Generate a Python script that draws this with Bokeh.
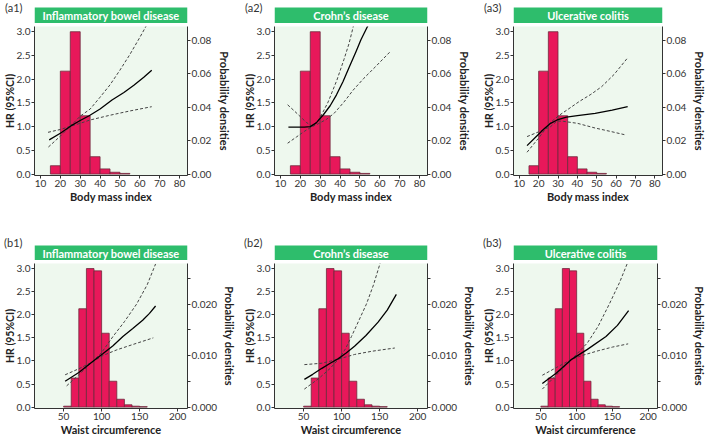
from bokeh.plotting import figure
from bokeh.layouts import column, row
from bokeh.models import (Range1d, LinearAxis, FixedTicker, NumeralTickFormatter,
                          CustomJSTickFormatter)
from bokeh.core.properties import value
from bokeh.embed import file_html
from bokeh.resources import INLINE

# ---------------- data ----------------
panel_tags = ["(a1)", "(a2)", "(a3)", "(b1)", "(b2)", "(b3)"]
disease_names = ["Inflammatory bowel disease", "Crohn\u2019s disease", "Ulcerative colitis"]
bmi_label = "Body mass index"
waist_label = "Waist circumference"

hr_ticks = [0.0, 0.5, 1.0, 1.5, 2.0, 2.5, 3.0]
bmi_ticks = [10, 20, 30, 40, 50, 60, 70, 80]
waist_ticks = [50, 100, 150, 200]
bmi_dens_ticks = [0.0, 0.02, 0.04, 0.06, 0.08]
waist_dens_ticks = [0.0, 0.01, 0.02]
waist_dens_minor = [0.005, 0.015, 0.025]

# histograms (probability densities)
bmi_bin_left = [15, 20, 25, 30, 35, 40, 45, 50]
bmi_bin_right = [20, 25, 30, 35, 40, 45, 50, 55]
bmi_density = [0.0050, 0.0616, 0.0852, 0.0349, 0.0104, 0.0031, 0.0011, 0.0004]

waist_bin_left = [50, 60, 70, 80, 90, 100, 110, 120, 130, 140, 150]
waist_bin_right = [60, 70, 80, 90, 100, 110, 120, 130, 140, 150, 160]
waist_density = [0.00018, 0.00565, 0.01912, 0.02693, 0.02648, 0.01436,
                 0.00503, 0.00153, 0.00045, 0.00018, 0.00009]

# a1: IBD vs BMI
a1_x = [14.4, 20, 25.5, 30, 34.5, 40, 46, 52, 57, 62, 66]
a1_hr = [0.72, 0.86, 1.02, 1.13, 1.23, 1.37, 1.56, 1.72, 1.87, 2.04, 2.19]
a1_up_x = [14, 20, 26, 30, 35, 40, 45, 50, 55, 60, 64]
a1_up = [0.57, 0.80, 1.05, 1.22, 1.37, 1.62, 1.88, 2.19, 2.52, 2.88, 3.18]
a1_lo_x = [13.8, 20, 26, 30, 35, 45, 55, 66]
a1_lo = [0.88, 0.94, 1.02, 1.07, 1.14, 1.24, 1.33, 1.42]

# a2: CD vs BMI
a2_x = [14, 18, 22, 25, 28, 31.6, 35, 38.2, 41.5, 44.8, 48, 50.5, 54.5]
a2_hr = [0.99, 0.99, 0.99, 1.0, 1.08, 1.25, 1.44, 1.67, 1.95, 2.27, 2.58, 2.83, 3.17]
a2_up_x = [13.6, 17, 20, 23, 25.5, 28, 30.2, 34, 38.4, 42, 44.5, 46.6, 48]
a2_up = [1.46, 1.33, 1.21, 1.09, 1.02, 1.08, 1.21, 1.52, 1.98, 2.42, 2.75, 3.1, 3.35]
a2_lo_x = [13.6, 18, 22, 25.5, 29, 33, 37, 42, 46.6, 52, 58, 65]
a2_lo = [0.65, 0.78, 0.90, 0.99, 1.06, 1.15, 1.28, 1.52, 1.77, 2.02, 2.27, 2.57]

# a3: UC vs BMI
a3_x = [14, 19.7, 23, 26.2, 29.5, 34.4, 40, 49.2, 58, 66]
a3_hr = [0.60, 0.83, 0.96, 1.07, 1.14, 1.20, 1.23, 1.28, 1.35, 1.42]
a3_up_x = [14, 20, 26.2, 30.3, 35, 41, 47, 52.5, 59, 66]
a3_up = [0.46, 0.76, 1.09, 1.23, 1.36, 1.53, 1.68, 1.84, 2.10, 2.45]
a3_lo_x = [14, 20, 26.2, 29.5, 33, 40, 49.2, 57, 64.4]
a3_lo = [0.79, 0.89, 1.00, 1.12, 1.11, 1.07, 0.97, 0.90, 0.83]

# b1: IBD vs waist
b1_x = [52, 70, 87, 102, 115, 128, 141, 154, 163, 171]
b1_hr = [0.56, 0.75, 0.97, 1.16, 1.33, 1.53, 1.70, 1.88, 2.03, 2.19]
b1_up_x = [54, 70, 87, 100, 115, 130, 146, 160, 171]
b1_up = [0.46, 0.70, 0.97, 1.18, 1.53, 1.85, 2.23, 2.65, 3.10]
b1_lo_x = [52, 70, 87, 102, 120, 140, 168]
b1_lo = [0.70, 0.83, 0.97, 1.12, 1.24, 1.35, 1.50]

# b2: CD vs waist
b2_x = [51, 62, 74, 85, 95.7, 106, 117, 132, 148, 160, 172]
b2_hr = [0.60, 0.71, 0.84, 0.95, 1.05, 1.17, 1.32, 1.55, 1.84, 2.10, 2.44]
b2_up_x = [51, 70, 85, 96, 105, 113, 122, 132.6, 142, 150, 154]
b2_up = [0.39, 0.62, 0.84, 1.04, 1.26, 1.53, 1.85, 2.23, 2.65, 3.08, 3.30]
b2_lo_x = [51, 74, 96, 117, 140, 170]
b2_lo = [0.92, 0.95, 1.04, 1.14, 1.21, 1.28]

# b3: UC vs waist
b3_x = [52, 71.7, 93.5, 115, 141, 157, 172.6]
b3_hr = [0.51, 0.74, 1.04, 1.25, 1.53, 1.77, 2.09]
b3_up_x = [52, 72, 93.5, 115, 130, 145.6, 160, 171]
b3_up = [0.39, 0.70, 1.04, 1.39, 1.75, 2.23, 2.70, 3.12]
b3_lo_x = [52, 72, 93.5, 108, 130, 150, 172]
b3_lo = [0.69, 0.86, 1.04, 1.12, 1.22, 1.30, 1.37]

# ---------------- style / layout ----------------
FONT = "Lato"
BAR_FILL = "#E8185A"
BAR_LINE = "#6E2A3C"
PANEL_BG = "#EEF8EE"
TITLE_BG = "#2EBD6C"
AX = "#333333"

Y0, Y1 = -0.03, 3.11
BMI_K = 0.0284      # density units per HR unit (right axis scale)
WAIST_K = 0.008975

col_w = [240, 239, 230]
LEFT = 33
FRAME_W = 154
# header strip: (height, tag centre, bar top, bar bottom)
header_geom = [(23, 7, 7, 23), (25, 7, 10, 25)]
main_h = [212, 178]
main_top = 3
main_bottom = [60, 29]


def style_axis(ax, standoff=1):
    ax.axis_line_color = AX
    ax.axis_line_width = 1
    ax.major_tick_line_color = AX
    ax.minor_tick_line_color = AX
    ax.major_tick_in = 0
    ax.major_tick_out = 3
    ax.minor_tick_in = 0
    ax.minor_tick_out = 3
    ax.major_label_text_font = FONT
    ax.major_label_text_font_size = "10px"
    ax.major_label_text_color = AX
    ax.major_label_standoff = 1
    ax.axis_label_text_font = FONT
    ax.axis_label_text_font_size = "11px"
    ax.axis_label_text_font_style = "bold"
    ax.axis_label_text_color = "#222222"
    ax.axis_label_standoff = standoff


def make_header(tag, name, r, c, xr):
    w = col_w[c]
    hh, tag_y, bt, bb = header_geom[r]
    h = figure(width=w, height=hh, x_range=Range1d(*xr), y_range=Range1d(hh, 0),
               output_backend="svg", toolbar_location=None,
               x_axis_location=None, y_axis_location="left",
               min_border_left=LEFT, min_border_right=w - LEFT - FRAME_W,
               min_border_top=0, min_border_bottom=0)
    h.outline_line_color = None
    h.grid.visible = False
    h.background_fill_color = "white"
    h.border_fill_color = "white"
    h.quad(left=[xr[0]], right=[xr[1]], top=[bt], bottom=[bb],
           fill_color=TITLE_BG, line_color=None)
    h.text(x=[(xr[0] + xr[1]) / 2], y=[(bt + bb) / 2], text=[name],
           text_align="center", text_baseline="middle", text_color="white",
           text_font=value(FONT), text_font_size=value("11px"),
           text_font_style="bold")
    ya = h.yaxis[0]
    ya.ticker = FixedTicker(ticks=[tag_y], minor_ticks=[])
    ya.formatter = CustomJSTickFormatter(code="return '%s'" % tag)
    ya.axis_line_color = None
    ya.major_tick_line_color = None
    ya.minor_tick_line_color = None
    ya.major_tick_in = 0
    ya.major_tick_out = 0
    ya.major_label_standoff = 12
    ya.major_label_text_font = FONT
    ya.major_label_text_font_size = "11px"
    ya.major_label_text_color = "#333333"
    return h


def make_panel(tag, name, r, c, xr, xticks, xlabel, bl, br, dens, k,
               dticks, dminor, dfmt, curves):
    w = col_w[c]
    p = figure(width=w, height=main_h[r], x_range=Range1d(*xr),
               y_range=Range1d(Y0, Y1),
               output_backend="svg", toolbar_location=None,
               min_border_left=LEFT, min_border_right=w - LEFT - FRAME_W,
               min_border_top=main_top, min_border_bottom=main_bottom[r])
    p.background_fill_color = PANEL_BG
    p.border_fill_color = "white"
    p.outline_line_color = None
    p.grid.visible = False
    p.extra_y_ranges = {"dens": Range1d(Y0 * k, Y1 * k)}

    p.quad(left=bl, right=br, bottom=0, top=dens, y_range_name="dens",
           fill_color=BAR_FILL, line_color=BAR_LINE, line_width=0.8)

    (cx, cy), (ux, uy), (lx, ly) = curves
    p.line(ux, uy, line_color="#444444", line_width=1, line_dash="3 2")
    p.line(lx, ly, line_color="#444444", line_width=1, line_dash="3 2")
    p.line(cx, cy, line_color="black", line_width=1.3)

    p.xaxis.ticker = xticks
    p.xaxis.axis_label = xlabel
    p.yaxis.ticker = hr_ticks
    p.yaxis.formatter = NumeralTickFormatter(format="0.0")
    p.yaxis.axis_label = "HR (95%CI)"
    style_axis(p.xaxis[0], 0)
    style_axis(p.yaxis[0], -2)
    p.yaxis[0].major_label_standoff = 1
    p.yaxis[0].axis_label_text_font_size = "10.5px"

    rax = LinearAxis(y_range_name="dens",
                     ticker=FixedTicker(ticks=dticks, minor_ticks=dminor),
                     formatter=NumeralTickFormatter(format=dfmt),
                     axis_label="Probability densities")
    style_axis(rax, 4 if dfmt == "0.00" else 3)
    p.add_layout(rax, "right")

    return column(make_header(tag, name, r, c, xr), p, spacing=0)


bmi_curves = [
    ((a1_x, a1_hr), (a1_up_x, a1_up), (a1_lo_x, a1_lo)),
    ((a2_x, a2_hr), (a2_up_x, a2_up), (a2_lo_x, a2_lo)),
    ((a3_x, a3_hr), (a3_up_x, a3_up), (a3_lo_x, a3_lo)),
]
waist_curves = [
    ((b1_x, b1_hr), (b1_up_x, b1_up), (b1_lo_x, b1_lo)),
    ((b2_x, b2_hr), (b2_up_x, b2_up), (b2_lo_x, b2_lo)),
    ((b3_x, b3_hr), (b3_up_x, b3_up), (b3_lo_x, b3_lo)),
]

row_a = [make_panel(panel_tags[i], disease_names[i], 0, i, (7, 84), bmi_ticks, bmi_label,
                    bmi_bin_left, bmi_bin_right, bmi_density, BMI_K,
                    bmi_dens_ticks, [], "0.00", bmi_curves[i]) for i in range(3)]
row_b = [make_panel(panel_tags[3 + i], disease_names[i], 1, i, (11.7, 213), waist_ticks,
                    waist_label, waist_bin_left, waist_bin_right, waist_density, WAIST_K,
                    waist_dens_ticks, waist_dens_minor, "0.000", waist_curves[i])
         for i in range(3)]

layout = column(row(*row_a, spacing=0), row(*row_b, spacing=0), spacing=0)

with open("out.html", "w") as f:
    f.write(file_html(layout, INLINE))
